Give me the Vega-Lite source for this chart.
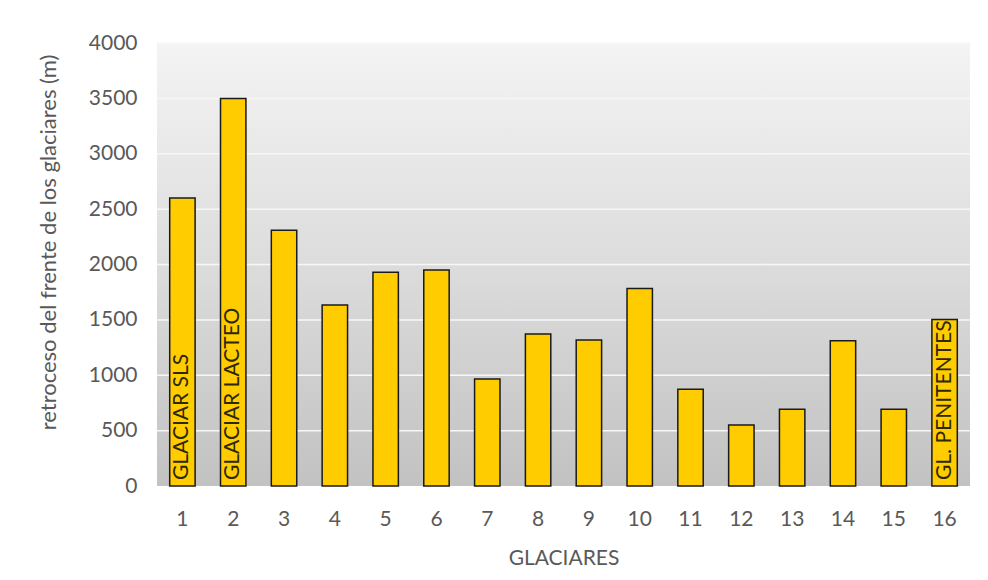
{
  "$schema": "https://vega.github.io/schema/vega-lite/v6.json",
  "width": 813,
  "height": 443,
  "autosize": {"type": "none"},
  "padding": {"left": 157, "top": 43, "right": 18, "bottom": 94},
  "background": "white",
  "config": {
    "view": {"stroke": null},
    "font": "Lato",
    "axis": {
      "labelFont": "Lato",
      "titleFont": "Lato",
      "labelFontSize": 21,
      "titleFontSize": 21,
      "labelColor": "#595959",
      "titleColor": "#595959",
      "titleFontWeight": "normal",
      "domain": false,
      "ticks": false
    }
  },
  "data": {
    "values": [
      {"glaciar": "1", "retroceso": 2600, "nombre": "GLACIAR SLS"},
      {"glaciar": "2", "retroceso": 3500, "nombre": "GLACIAR LACTEO"},
      {"glaciar": "3", "retroceso": 2310, "nombre": ""},
      {"glaciar": "4", "retroceso": 1634, "nombre": ""},
      {"glaciar": "5", "retroceso": 1931, "nombre": ""},
      {"glaciar": "6", "retroceso": 1950, "nombre": ""},
      {"glaciar": "7", "retroceso": 966, "nombre": ""},
      {"glaciar": "8", "retroceso": 1372, "nombre": ""},
      {"glaciar": "9", "retroceso": 1318, "nombre": ""},
      {"glaciar": "10", "retroceso": 1784, "nombre": ""},
      {"glaciar": "11", "retroceso": 873, "nombre": ""},
      {"glaciar": "12", "retroceso": 550, "nombre": ""},
      {"glaciar": "13", "retroceso": 692, "nombre": ""},
      {"glaciar": "14", "retroceso": 1311, "nombre": ""},
      {"glaciar": "15", "retroceso": 692, "nombre": ""},
      {"glaciar": "16", "retroceso": 1504, "nombre": "GL. PENITENTES"}
    ]
  },
  "layer": [
    {
      "mark": {
        "type": "rect",
        "fill": {
          "gradient": "linear",
          "x1": 0, "y1": 0, "x2": 0, "y2": 1,
          "stops": [
            {"offset": 0, "color": "#f4f4f4"},
            {"offset": 0.5, "color": "#dcdcdc"},
            {"offset": 1, "color": "#c2c2c2"}
          ]
        }
      },
      "encoding": {
        "y": {"datum": 4000, "type": "quantitative"},
        "y2": {"datum": 0}
      }
    },
    {
      "mark": {"type": "rule", "color": "#f7f7f7", "strokeWidth": 1.5},
      "data": {"values": [{"v": 500}, {"v": 1000}, {"v": 1500}, {"v": 2000}, {"v": 2500}, {"v": 3000}, {"v": 3500}, {"v": 4000}]},
      "encoding": {
        "y": {"field": "v", "type": "quantitative"}
      }
    },
    {
      "mark": {"type": "bar", "fill": "#ffcc00", "stroke": "#1a1a1a", "strokeWidth": 1.5},
      "encoding": {
        "x": {
          "field": "glaciar",
          "type": "ordinal",
          "sort": null,
          "scale": {"paddingInner": 0.5, "paddingOuter": 0.25},
          "axis": {"title": "GLACIARES", "labelAngle": 0, "labelPadding": 22, "titlePadding": 18, "grid": false}
        },
        "y": {
          "field": "retroceso",
          "type": "quantitative",
          "scale": {"domain": [0, 4000], "nice": false},
          "axis": {
            "title": "retroceso del frente de los glaciares (m)",
            "values": [0, 500, 1000, 1500, 2000, 2500, 3000, 3500, 4000],
            "format": "d",
            "labelPadding": 20,
            "grid": false,
            "titleFontSize": 22,
            "titleX": -109,
            "titleY": 199,
            "titleAngle": 270,
            "titleAlign": "center",
            "titleBaseline": "middle"
          }
        }
      }
    },
    {
      "mark": {"type": "text", "angle": 270, "align": "left", "baseline": "middle", "dx": 6, "fontSize": 21, "color": "#2e2800", "font": "Lato"},
      "encoding": {
        "x": {"field": "glaciar", "type": "ordinal", "sort": null},
        "y": {"datum": 0, "type": "quantitative"},
        "text": {"field": "nombre"}
      }
    }
  ]
}
